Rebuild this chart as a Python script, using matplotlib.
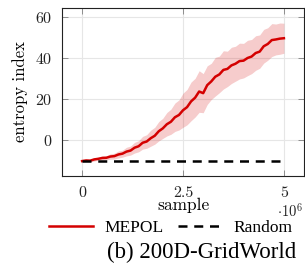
import matplotlib
matplotlib.use("Agg")
import matplotlib.pyplot as plt
import numpy as np

plt.rcParams['font.family'] = 'serif'
plt.rcParams['font.serif'] = ['cmr10', 'DejaVu Serif']
plt.rcParams['mathtext.fontset'] = 'cm'
plt.rcParams['axes.formatter.use_mathtext'] = True

# samples in units of 1e6
samples = [0.0, 0.1, 0.2, 0.3, 0.4, 0.5, 0.6, 0.7, 0.8, 0.9,
           1.0, 1.1, 1.2, 1.3, 1.4, 1.5, 1.6, 1.7, 1.8, 1.9,
           2.0, 2.1, 2.2, 2.3, 2.4, 2.5, 2.6, 2.7, 2.8, 2.9,
           3.0, 3.1, 3.2, 3.3, 3.4, 3.5, 3.6, 3.7, 3.8, 3.9,
           4.0, 4.1, 4.2, 4.3, 4.4, 4.5, 4.6, 4.7, 4.8, 4.9, 5.0]
mepol_mean = [-10.0, -9.7, -9.8, -9.2, -8.9, -8.5, -8.4, -7.8, -7.6, -6.8,
              -6.4, -5.4, -4.9, -3.5, -2.8, -1.1, -0.5, 1.1, 2.3, 4.5,
              5.9, 7.9, 9.1, 11.3, 12.4, 14.7, 16.2, 19.0, 20.8, 23.8,
              23.0, 26.9, 28.7, 31.0, 32.1, 34.3, 34.8, 36.5, 37.3, 38.6,
              38.8, 40.1, 40.8, 42.5, 43.2, 45.8, 46.9, 48.8, 49.1, 49.5, 49.7]
mepol_std = [0.4, 0.5, 0.6, 0.8, 0.7, 1.1, 1.0, 1.3, 1.4, 1.7,
             1.7, 2.1, 2.2, 2.6, 2.7, 3.1, 3.3, 3.9, 4.1, 4.7,
             4.9, 5.7, 6.1, 6.9, 7.3, 8.3, 8.6, 9.4, 9.4, 10.1,
             9.5, 9.4, 8.8, 9.4, 8.9, 9.3, 8.6, 8.8, 8.5, 8.7,
             8.4, 8.6, 8.3, 8.4, 8.1, 8.2, 7.9, 8.0, 7.5, 7.6, 7.3]
random_x = [0.0, 5.0]
random_y = [-10.0, -10.0]

xticks = [0, 2.5, 5]
xticklabels = ['0', '2.5', '5']
yticks = [0, 20, 40, 60]

mean = np.array(mepol_mean)
std = np.array(mepol_std)

fig = plt.figure(figsize=(3.05, 2.66), dpi=100)
ax = fig.add_axes([0.203, 0.338, 0.794, 0.632])

red = '#d40000'
ax.fill_between(samples, mean - std, mean + std, color=red, alpha=0.2, linewidth=0)
l1, = ax.plot(samples, mepol_mean, color=red, linewidth=1.8, label='MEPOL')
l2, = ax.plot(random_x, random_y, color='black', linewidth=1.8,
              linestyle=(0, (3.6, 2.7)), label='Random')

ax.set_xlim(-0.5, 5.5)
ax.set_ylim(-17.3, 64.4)
ax.set_xticks(xticks)
ax.set_xticklabels(xticklabels)
ax.set_yticks(yticks)
ax.grid(True, color='#e6e6e6', linewidth=0.8)
ax.set_axisbelow(True)
ax.tick_params(direction='in', top=True, right=True, length=4, width=0.6,
               color='#808080', labelsize=11.5, labelcolor='#222222')
ax.tick_params(axis='x', pad=7)
ax.tick_params(axis='y', pad=7)
for s in ax.spines.values():
    s.set_linewidth(0.8)
    s.set_color('#222222')

ax.set_xlabel('sample', fontsize=12.5, labelpad=-1)
ax.set_ylabel('entropy index', fontsize=12, labelpad=5)
ax.text(0.94, -0.152, r'$\cdot 10^6$', transform=ax.transAxes, ha='center', va='top',
        fontsize=10.5, color='#222222')

fig.legend(handles=[l1, l2], loc='center', bbox_to_anchor=(0.56, 0.143), ncol=2,
           frameon=False, prop={'family': 'Liberation Serif', 'size': 12.5},
           handlelength=2.5, columnspacing=0.8, handletextpad=0.7)
fig.text(0.662, 0.052, '(b) 200D-GridWorld', ha='center', va='center',
         family='Liberation Serif', fontsize=16.5)

fig.savefig('out.png', dpi=100)
